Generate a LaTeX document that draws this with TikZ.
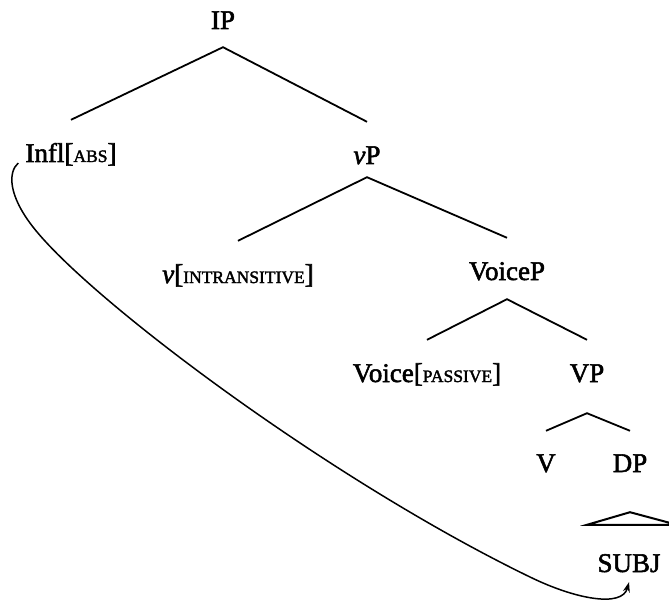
\documentclass[tikz,border=0pt]{standalone}
\usepackage{fontspec}
\setmainfont{Liberation Serif}[FakeBold=2]
\usetikzlibrary{arrows.meta}
% feature values in reduced capitals
\newcommand{\featsc}[1]{{\fontsize{17.5}{18}\selectfont #1}}
\begin{document}
\begin{tikzpicture}[x=1pt,y=-1pt,
  lbl/.style={anchor=base, inner sep=0pt, text height=20pt, text depth=6pt,
              font=\fontsize{27}{30}\selectfont},
  branch/.style={line width=1.8pt},
  movement/.style={line width=1.5pt, -{Stealth[length=10pt,width=7pt]}}]
\useasboundingbox (0,0) rectangle (669,604);
\clip (0,0) rectangle (669,604);

% tree labels
\node[lbl] (ip)     at (223,29)  {IP};
\node[lbl] (infl)   at (71,162)  {Infl[\featsc{ABS}]};
\node[lbl] (vp)     at (367,164) {\textit{v}P};
\node[lbl] (vint)   at (238,283) {\textit{v}[\featsc{INTRANSITIVE}]};
\node[lbl] (voicep) at (507,280) {VoiceP};
\node[lbl] (voice)  at (427,382) {Voice[\featsc{PASSIVE}]};
\node[lbl] (vpp)    at (587,382) {VP};
\node[lbl] (verb)   at (546,472) {V};
\node[lbl] (dp)     at (630,472) {DP};
\node[lbl] (subj)   at (629,572) {SUBJ};

% branches
\draw[branch] ([yshift=22pt]infl.north) -- ([yshift=-12pt]ip.south) -- ([yshift=22pt]vp.north);
\draw[branch] ([yshift=22pt]vint.north) -- ([yshift=-7pt]vp.south) -- ([yshift=22pt]voicep.north);
\draw[branch] ([yshift=22pt]voice.north) -- ([yshift=-13pt]voicep.south) -- ([yshift=22pt]vpp.north);
\draw[branch] ([yshift=21pt]verb.north) -- ([yshift=-25pt]vpp.south) -- ([yshift=21pt]dp.north);

% roof over the DP
\draw[branch, line width=2pt, line join=miter]
  ([yshift=-34pt]dp.south) -- ([shift={(-42pt,27pt)}]subj.north)
  -- ([shift={(48pt,27pt)}]subj.north) -- cycle;

% agreement arrow from Infl down to the subject
\coordinate (arrstart) at ([shift={(-7pt,-1pt)}]infl.base west);
\coordinate (arrend) at ([yshift=-4pt]subj.south);
\draw[movement] (arrstart) .. controls (8,172) and (8,195) .. (33,227)
  .. controls (90,300) and (330,480) .. (530,577)
  .. controls (575,599) and (622,608) .. (arrend);
\end{tikzpicture}
\end{document}
